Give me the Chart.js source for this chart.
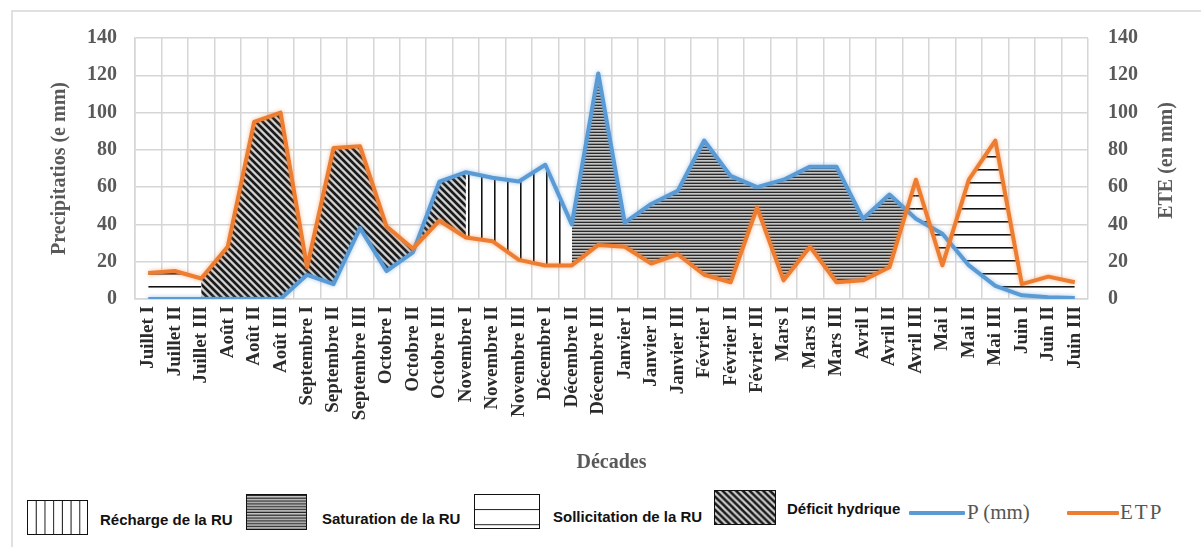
<!DOCTYPE html>
<html lang="fr">
<head>
<meta charset="utf-8">
<title>Bilan hydrique par décade</title>
<script src="https://cdn.jsdelivr.net/npm/chart.js@4.4.1/dist/chart.umd.min.js"></script>
<style>
  html, body { margin: 0; padding: 0; background: #fff; }
  #wrap { position: relative; width: 1201px; height: 547px; overflow: hidden; background: #fff; }
  #frame { position: absolute; left: 11px; top: 10px; right: -2px; bottom: -2px;
           border-top: 2px solid #e0e0e0; border-left: 2px solid #e0e0e0; }
  #chartBox { position: absolute; left: 0; top: 0; width: 1201px; height: 480px; }
  .sw { position: absolute; box-sizing: border-box; border: 1.5px solid #111; }
  .lt { position: absolute; white-space: nowrap; color: #111;
        font-family: "Liberation Sans Narrow", "Liberation Sans", Arial, sans-serif;
        font-weight: bold; font-size: 15px; line-height: 18px; }
  .ln { position: absolute; height: 4px; border-radius: 1px; }
  .ls { position: absolute; white-space: nowrap; color: #555;
        font-family: "Liberation Serif", "Times New Roman", serif; font-size: 21px; line-height: 24px; }
</style>
</head>
<body>
<div id="wrap">
  <div id="frame"></div>
  <div id="chartBox"><canvas id="chart" width="1201" height="480"></canvas></div>

  <canvas class="sw" id="swRecharge" width="61" height="35" style="left:27px;top:500px;width:61px;height:35px"></canvas>
  <div class="lt" style="left:100px;top:511px">Récharge de la RU</div>

  <canvas class="sw" id="swSaturation" width="61" height="36" style="left:246px;top:494px;width:61px;height:36px"></canvas>
  <div class="lt" style="left:322px;top:510px">Saturation de la RU</div>

  <canvas class="sw" id="swSollicitation" width="66" height="35" style="left:474px;top:494px;width:66px;height:35px"></canvas>
  <div class="lt" style="left:553px;top:508px">Sollicitation de la RU</div>

  <canvas class="sw" id="swDeficit" width="62" height="35" style="left:714px;top:490px;width:62px;height:35px"></canvas>
  <div class="lt" style="left:787px;top:500px">Déficit hydrique</div>

  <div class="ln" style="left:909px;top:511px;width:56px;background:#5B9BD5"></div>
  <div class="ls" style="left:967px;top:500px">P (mm)</div>
  <div class="ln" style="left:1067px;top:511px;width:52px;background:#ED7D31"></div>
  <div class="ls" style="left:1120px;top:500px;letter-spacing:2px">ETP</div>
</div>

<script>
// Décades of the hydrological year (July to June)
const decades = [
  'Juillet I', 'Juillet II', 'Juillet III', 'Août I', 'Août II', 'Août III',
  'Septembre I', 'Septembre II', 'Septembre III', 'Octobre I', 'Octobre II', 'Octobre III',
  'Novembre I', 'Novembre II', 'Novembre III', 'Décembre I', 'Décembre II', 'Décembre III',
  'Janvier I', 'Janvier II', 'Janvier III', 'Février I', 'Février II', 'Février III',
  'Mars I', 'Mars II', 'Mars III', 'Avril I', 'Avril II', 'Avril III',
  'Mai I', 'Mai II', 'Mai III', 'Juin I', 'Juin II', 'Juin III'
];

// Precipitation per décade (mm)
const pluie = [
  0, 0, 0, 0, 0, 0,
  13, 8, 38, 15, 25, 63,
  68, 65, 63, 72, 40, 121,
  41, 51, 58, 85, 66, 60,
  64, 71, 71, 43, 56, 43,
  35, 18, 7, 2, 1, 0.5
];

// Potential evapotranspiration per décade (mm)
const etp = [
  14, 15, 11, 28, 95, 100,
  17, 81, 82, 39, 27, 42,
  33, 31, 21, 18, 18, 29,
  28, 19, 24, 13, 9, 49,
  10, 28, 9, 10, 17, 64,
  18, 64, 85, 8, 12, 9
];

// Water-balance phases: first and last décade index of each phase,
// and the hatching used where P is above / below ETP
const phaseStart = [0, 2, 12, 16, 29];
const phaseEnd   = [2, 12, 16, 29, 35];
const phaseAbove = ['sollicitation', 'deficit', 'recharge', 'saturation', 'sollicitation'];
const phaseBelow = ['sollicitation', 'deficit', 'recharge', 'sollicitation', 'sollicitation'];

const yTicks = [0, 20, 40, 60, 80, 100, 120, 140];

const serif = '"Liberation Serif", "Times New Roman", serif';
const gridColor = '#d6d6d6';

// ---- hatching patterns -------------------------------------------------
function paintTile(kind) {
  const c = document.createElement('canvas');
  let g;
  if (kind === 'recharge') {            // white with vertical strokes
    c.width = 13; c.height = 2; g = c.getContext('2d');
    g.fillStyle = '#fff'; g.fillRect(0, 0, 13, 2);
    g.fillStyle = '#111'; g.fillRect(0, 0, 1, 2);
    g.fillStyle = '#777'; g.fillRect(1, 0, 1, 2);
  } else if (kind === 'sollicitation') { // white with horizontal strokes
    c.width = 2; c.height = 13; g = c.getContext('2d');
    g.fillStyle = '#fff'; g.fillRect(0, 0, 2, 13);
    g.fillStyle = '#111'; g.fillRect(0, 0, 2, 1);
    g.fillStyle = '#777'; g.fillRect(0, 1, 2, 1);
  } else if (kind === 'saturation') {    // dense grey horizontal lines
    c.width = 2; c.height = 3; g = c.getContext('2d');
    g.fillStyle = '#2a2a2a'; g.fillRect(0, 0, 2, 1);
    g.fillStyle = '#c6c6c6'; g.fillRect(0, 1, 2, 1);
    g.fillStyle = '#939393'; g.fillRect(0, 2, 2, 1);
  } else {                               // deficit: dark diagonal hatching
    const n = 7;
    c.width = n; c.height = n; g = c.getContext('2d');
    for (let x = 0; x < n; x++) {
      for (let y = 0; y < n; y++) {
        const d = ((x - y) % n + n) % n;
        g.fillStyle = d < 3 ? '#1b1b1b' : (d === 3 || d === 6 ? '#8a8a8a' : '#d2d2d2');
        g.fillRect(x, y, 1, 1);
      }
    }
  }
  return c;
}

const chartCanvas = document.getElementById('chart');
const cctx = chartCanvas.getContext('2d');
const patterns = {};
['recharge', 'saturation', 'sollicitation', 'deficit'].forEach(k => {
  patterns[k] = cctx.createPattern(paintTile(k), 'repeat');
});

// legend swatches
[['swRecharge', 'recharge'], ['swSaturation', 'saturation'],
 ['swSollicitation', 'sollicitation'], ['swDeficit', 'deficit']].forEach(([id, k]) => {
  const cv = document.getElementById(id);
  const g = cv.getContext('2d');
  let tile = paintTile(k);
  if (k === 'sollicitation') {
    // wider spacing in the key box
    tile = document.createElement('canvas');
    tile.width = 2; tile.height = 16;
    const t = tile.getContext('2d');
    t.fillStyle = '#fff'; t.fillRect(0, 0, 2, 16);
    t.fillStyle = '#111'; t.fillRect(0, 15, 2, 2);
  }
  if (k === 'recharge') {
    tile = document.createElement('canvas');
    tile.width = 9; tile.height = 2;
    const t = tile.getContext('2d');
    t.fillStyle = '#fff'; t.fillRect(0, 0, 9, 2);
    t.fillStyle = '#111'; t.fillRect(8, 0, 1, 2);
  }
  g.fillStyle = g.createPattern(tile, 'repeat');
  g.fillRect(0, 0, cv.width, cv.height);
});

// ---- datasets ----------------------------------------------------------
const slice = (arr, a, b) => arr.map((v, i) => (i >= a && i <= b ? v : null));

const datasets = [
  { label: 'ETP', data: etp, borderColor: '#ED7D31', borderWidth: 4,
    pointRadius: 0, fill: false, tension: 0, yAxisID: 'y', borderJoinStyle: 'round' },
  { label: 'P (mm)', data: pluie, borderColor: '#5B9BD5', borderWidth: 4,
    pointRadius: 0, fill: false, tension: 0, yAxisID: 'y', borderJoinStyle: 'round' }
];

phaseStart.forEach((a, k) => {
  const b = phaseEnd[k];
  datasets.push({
    label: 'phase-P-' + k, data: slice(pluie, a, b),
    borderWidth: 0, borderColor: 'rgba(0,0,0,0)', pointRadius: 0, yAxisID: 'y',
    fill: { target: '+1', above: patterns[phaseAbove[k]], below: patterns[phaseBelow[k]] }
  });
  datasets.push({
    label: 'phase-ETP-' + k, data: slice(etp, a, b),
    borderWidth: 0, borderColor: 'rgba(0,0,0,0)', pointRadius: 0, yAxisID: 'y', fill: false
  });
});

// soft halo on the two curves
const haloPlugin = {
  id: 'halo',
  beforeDatasetDraw(chart, args) {
    if (args.index > 1) return;
    const c = chart.ctx;
    c.save();
    c.shadowColor = args.index === 0 ? 'rgba(237,125,49,0.55)' : 'rgba(91,155,213,0.55)';
    c.shadowBlur = 4;
  },
  afterDatasetDraw(chart, args) {
    if (args.index > 1) return;
    chart.ctx.restore();
  }
};

// right-hand axis title, read from bottom to top
const rightTitlePlugin = {
  id: 'rightTitle',
  afterDraw(chart) {
    const s = chart.scales.y2;
    const a = chart.chartArea;
    const c = chart.ctx;
    c.save();
    c.font = 'bold 20px ' + serif;
    c.fillStyle = '#595959';
    c.textAlign = 'center';
    c.textBaseline = 'middle';
    c.translate(s.left + 79, (a.top + a.bottom) / 2 - 8);
    c.rotate(-Math.PI / 2);
    c.fillText('ETE (en mm)', 0, 0);
    c.restore();
  }
};

new Chart(chartCanvas, {
  type: 'line',
  data: { labels: decades, datasets },
  plugins: [haloPlugin, rightTitlePlugin],
  options: {
    responsive: false,
    animation: false,
    layout: { padding: { left: 12, right: 0, top: 38, bottom: 0 } },
    plugins: {
      legend: { display: false },
      tooltip: { enabled: false },
      filler: { propagate: false }
    },
    scales: {
      x: {
        type: 'category',
        offset: true,
        grid: { offset: true, color: gridColor, lineWidth: 1.5, drawTicks: false },
        border: { color: gridColor, width: 1.5 },
        ticks: {
          autoSkip: false, minRotation: 90, maxRotation: 90, padding: 7,
          color: '#2b2b2b', font: { family: serif, size: 19, weight: 'bold' }
        },
        title: {
          display: true, text: 'Décades', color: '#595959',
          font: { family: serif, size: 20, weight: 'bold' },
          padding: { top: 0, bottom: 5 }
        },
        afterFit(s) { s.height = 181; }
      },
      y: {
        position: 'left', min: 0, max: 140,
        afterBuildTicks(s) { s.ticks = yTicks.map(v => ({ value: v })); },
        grid: { color: gridColor, lineWidth: 1.5, drawTicks: false },
        border: { color: gridColor, width: 1.5 },
        ticks: { padding: 18, color: '#595959', font: { family: serif, size: 20, weight: 'bold' } },
        title: {
          display: true, text: 'Precipitatios (e mm)', color: '#595959',
          font: { family: serif, size: 20, weight: 'bold' },
          padding: { top: 36, bottom: 0 }
        },
        afterFit(s) { s.width = 123; }
      },
      y2: {
        position: 'right', min: 0, max: 140,
        afterBuildTicks(s) { s.ticks = yTicks.map(v => ({ value: v })); },
        grid: { drawOnChartArea: false, drawTicks: false },
        border: { display: false },
        ticks: { padding: 20, color: '#595959', font: { family: serif, size: 20, weight: 'bold' } },
        afterFit(s) { s.width = 113; }
      }
    }
  }
});
</script>
</body>
</html>
